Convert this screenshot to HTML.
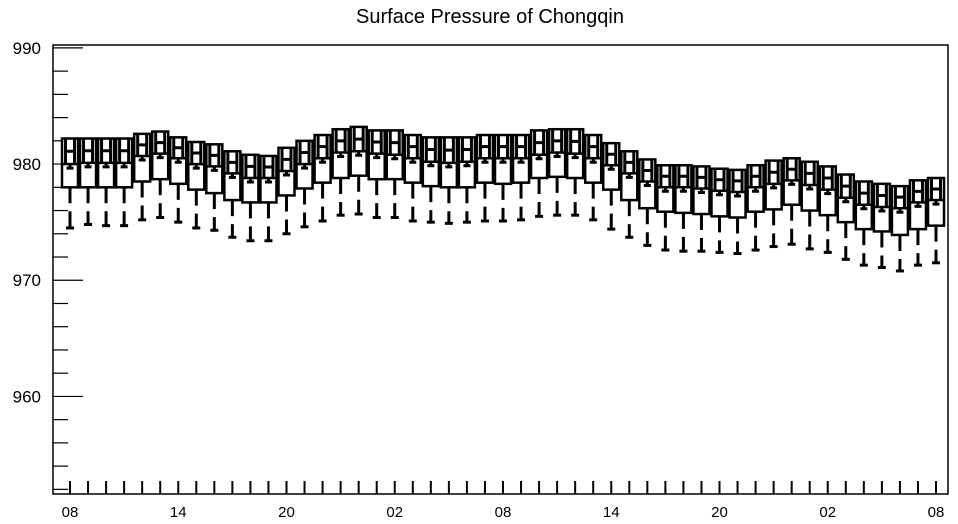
<!DOCTYPE html>
<html><head><meta charset="utf-8"><style>
html,body{margin:0;padding:0;background:#fff;}
svg{display:block;font-family:"Liberation Sans",sans-serif;}
</style></head><body>
<svg id="chart" width="958" height="524" viewBox="0 0 958 524" xmlns="http://www.w3.org/2000/svg">
<text x="490" y="23" font-size="20" text-anchor="middle">Surface Pressure of Chongqin</text>
<rect x="53" y="45" width="895" height="449" fill="none" stroke="#000" stroke-width="1.5"/>
<g id="axes"></g>
<g id="boxes"></g>
</svg>
<script>
const xLabels = ["08","14","20","02","08","14","20","02","08"];
const yTickValues = [960,970,980,990];
const q3Values = [982.2,982.2,982.2,982.2,982.6,982.8,982.3,981.9,981.7,981.1,980.8,980.7,981.4,982.0,982.5,983.0,983.2,982.9,982.9,982.5,982.3,982.3,982.3,982.5,982.5,982.5,982.9,983.0,983.0,982.5,981.8,981.1,980.4,979.9,979.9,979.8,979.6,979.5,979.9,980.3,980.5,980.2,979.8,979.1,978.5,978.3,978.1,978.6,978.8];
const medianValues = [980.0,980.1,980.1,980.1,980.7,980.9,980.5,980.0,979.8,979.2,978.8,978.8,979.4,980.0,980.5,981.0,981.1,980.9,980.8,980.5,980.2,980.1,980.2,980.5,980.5,980.5,980.8,981.0,980.9,980.5,979.9,979.2,978.5,978.0,978.0,977.9,977.7,977.6,978.0,978.3,978.6,978.2,977.8,977.1,976.5,976.3,976.2,976.7,976.9];
const q1Values = [978.0,978.0,978.0,978.0,978.5,978.7,978.3,977.8,977.5,976.9,976.7,976.7,977.3,977.9,978.4,978.8,979.0,978.7,978.7,978.4,978.1,978.0,978.0,978.4,978.3,978.4,978.8,978.9,978.8,978.4,977.8,976.9,976.2,975.9,975.8,975.7,975.5,975.4,975.9,976.1,976.5,976.0,975.6,975.0,974.4,974.2,973.9,974.4,974.7];
const minValues = [974.5,974.8,974.7,974.7,975.2,975.4,975.0,974.5,974.3,973.7,973.4,973.4,974.0,974.6,975.1,975.6,975.7,975.4,975.4,975.1,975.0,974.9,975.0,975.1,975.1,975.2,975.5,975.6,975.6,975.2,974.4,973.7,973.0,972.6,972.5,972.5,972.4,972.3,972.6,972.9,973.1,972.7,972.4,971.8,971.3,971.1,970.8,971.3,971.5];

const NS="http://www.w3.org/2000/svg";
const plotL=53, plotR=948, plotT=45, plotB=494;
const yMin=951.6, yMax=990.25;
function yScale(v){return plotB-(v-yMin)/(yMax-yMin)*(plotB-plotT);}
const x0=70, step=(936-70)/48;
function xScale(i){return x0+i*step;}
function mk(tag,attrs,parent){const e=document.createElementNS(NS,tag);for(const k in attrs)e.setAttribute(k,attrs[k]);parent.appendChild(e);return e;}
const axes=document.getElementById('axes');
const boxes=document.getElementById('boxes');

for(let v=952; v<=990; v+=2){
  const y=yScale(v);
  const major = yTickValues.indexOf(v)>=0;
  const t=mk('line',{x1:plotL,x2:plotL+(major?30:15),y1:y,y2:y,stroke:'#000','stroke-width':1.2},axes);
  
  
}
yTickValues.forEach(v=>{
  const t=mk('text',{x:41,y:yScale(v)+6,'font-size':17,'text-anchor':'end'},axes);
  t.textContent=String(v);
  
  
});
for(let i=0;i<q3Values.length;i++){
  const x=xScale(i);
  const t=mk('line',{x1:x,x2:x,y1:plotB-13,y2:plotB,stroke:'#000','stroke-width':2},axes);
  
  
}
xLabels.forEach((s,k)=>{
  const t=mk('text',{x:xScale(k*6),y:517,'font-size':15,'text-anchor':'middle'},axes);
  t.textContent=s;
  
  
});
const hw=8;
for(let i=0;i<q3Values.length;i++){
  const x=xScale(i);
  const yt=yScale(q3Values[i]), ym=yScale(medianValues[i]), yb=yScale(q1Values[i]), yl=yScale(minValues[i]);
  const g=mk('g',{},boxes);
  
  
  mk('line',{x1:x,x2:x,y1:yb,y2:yl,stroke:'#000','stroke-width':3,'stroke-dasharray':'16,8'},g);
  mk('line',{x1:x-4,x2:x+4,y1:yl,y2:yl,stroke:'#000','stroke-width':3},g);
  mk('rect',{x:x-hw,y:yt,width:2*hw,height:yb-yt,fill:'#fff',stroke:'#000','stroke-width':2.5},g);
  mk('line',{x1:x-hw,x2:x+hw,y1:ym,y2:ym,stroke:'#000','stroke-width':2.5},g);
  const ht=yt+1, hb=ym-1, hm=(ht+hb)/2;
  mk('path',{d:`M${x-4.5},${ht}V${hb}M${x+4.5},${ht}V${hb}M${x-4.5},${hm}H${x+4.5}`,stroke:'#000','stroke-width':3,fill:'none'},g);
  mk('path',{d:`M${x},${ym}V${ym+4}M${x-3.5},${ym+4}H${x+3.5}`,stroke:'#000','stroke-width':3,fill:'none'},g);
}
</script>
</body></html>
